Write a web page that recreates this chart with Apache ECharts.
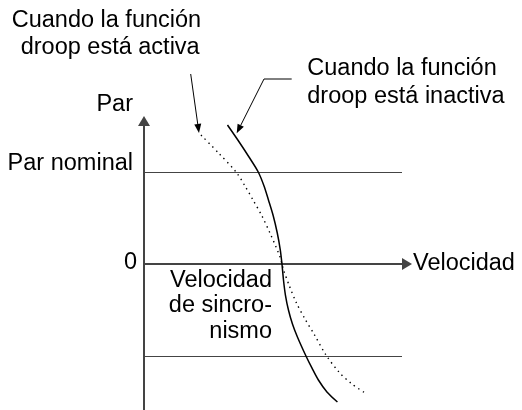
<!DOCTYPE html>
<html>
<head>
<meta charset="utf-8">
<script src="https://cdn.jsdelivr.net/npm/echarts@6/dist/echarts.min.js"></script>
<style>
html,body{margin:0;padding:0;background:#fff;}
#chart{width:522px;height:410px;}
</style>
</head>
<body>
<div id="chart"></div>
<script>
// Speed axis: 1 = synchronous speed. Torque axis: 1 = nominal torque.
const inactiveSpeed = [0.605, 0.685, 0.761, 0.828, 0.870, 0.902, 0.937, 0.966, 0.988, 1.0, 1.011, 1.025, 1.047, 1.076, 1.112, 1.174, 1.217, 1.264, 1.326, 1.402];
const inactiveTorque = [1.511, 1.337, 1.163, 1.0, 0.848, 0.696, 0.522, 0.337, 0.152, 0, -0.174, -0.337, -0.5, -0.652, -0.793, -1.0, -1.130, -1.261, -1.391, -1.5];
const activeSpeed = [0.413, 0.540, 0.667, 0.732, 0.790, 0.855, 0.913, 0.957, 0.986, 1.0, 1.014, 1.051, 1.105, 1.167, 1.232, 1.319, 1.413, 1.507, 1.609];
const activeTorque = [1.402, 1.207, 1.0, 0.848, 0.696, 0.522, 0.337, 0.185, 0.076, 0, -0.076, -0.228, -0.424, -0.598, -0.761, -0.989, -1.174, -1.304, -1.408];
const refTorqueLines = [1, -1];
const yLabelValues = [0, 1];
const yLabelTexts = {0: '0', 1: 'Par nominal'};
const xAxisName = 'Velocidad';
const yAxisName = 'Par';
const syncLabel = 'Velocidad\nde sincro-\nnismo';
const noteActive = ['Cuando la función', 'droop está activa'];
const noteInactive = ['Cuando la función', 'droop está inactiva'];

const FONT = '"Liberation Sans", Arial, sans-serif';
const FS = 23.5;
const AXIS_COLOR = '#444';

function pairs(xs, ys) { return xs.map((x, i) => [x, ys[i]]); }

function arrowHead(x0, y0, x1, y1, len, wid) {
  const dx = x1 - x0, dy = y1 - y0;
  const d = Math.sqrt(dx * dx + dy * dy);
  const ux = dx / d, uy = dy / d;
  const bx = x1 - ux * len, by = y1 - uy * len;
  const px = -uy * wid / 2, py = ux * wid / 2;
  return {
    base: [bx, by],
    pts: [[x1, y1], [bx + px, by + py], [bx - px, by - py]]
  };
}

const a1 = arrowHead(190.7, 74, 199, 133, 9, 7);
const a2 = arrowHead(264, 79, 236.7, 133.3, 9, 7);

function txt(text, x, y, align) {
  return {
    type: 'text', x: x, y: y, silent: true,
    style: { text: text, font: FS + 'px ' + FONT, fill: '#000', align: align, verticalAlign: 'middle' }
  };
}

const chart = echarts.init(document.getElementById('chart'), null, { renderer: 'canvas' });
chart.setOption({
  animation: false,
  backgroundColor: '#fff',
  grid: { left: 144, top: 126, width: 258, height: 285.2, containLabel: false, outerBoundsMode: 'none' },
  xAxis: {
    type: 'value', min: 0, max: 1.87,
    name: xAxisName, nameLocation: 'end', nameGap: 11,
    nameTextStyle: { fontSize: FS, fontFamily: FONT, color: '#000', padding: [0, 0, 18, 0] },
    axisLine: { show: true, onZero: true, symbol: ['none', 'triangle'], symbolSize: [12, 10], symbolOffset: [0, 5],
      lineStyle: { color: AXIS_COLOR, width: 2 } },
    axisTick: { show: false }, axisLabel: { show: false }, splitLine: { show: false }
  },
  yAxis: {
    type: 'value', min: -1.6, max: 1.5,
    name: yAxisName, nameLocation: 'end', nameGap: 21.4,
    nameTextStyle: { fontSize: FS, fontFamily: FONT, color: '#000', align: 'right', verticalAlign: 'middle', padding: [0, 11, 0, 0] },
    axisLine: { show: true, symbol: ['none', 'triangle'], symbolSize: [12, 10], symbolOffset: [0, 5],
      lineStyle: { color: AXIS_COLOR, width: 2 } },
    axisTick: { show: false },
    axisLabel: {
      show: true, customValues: yLabelValues, margin: 7,
      fontSize: FS, fontFamily: FONT, color: '#000',
      formatter: function (v) { return v === 1 ? '{n|' + yLabelTexts[1] + '}' : '{z|' + yLabelTexts[0] + '}'; },
      rich: {
        n: { fontSize: FS, fontFamily: FONT, color: '#000', padding: [0, 4, 16, 0] },
        z: { fontSize: FS, fontFamily: FONT, color: '#000', padding: [0, 0, 2, 0] }
      }
    },
    splitLine: { show: false }
  },
  series: [
    {
      type: 'line', name: 'inactiva', data: pairs(inactiveSpeed, inactiveTorque),
      smooth: 0.3, symbol: 'none', clip: false, z: 5,
      lineStyle: { color: '#000', width: 1.5 },
      markLine: {
        silent: true, symbol: 'none', label: { show: false },
        lineStyle: { color: '#444', width: 1, type: 'solid' },
        data: refTorqueLines.map(v => ({ yAxis: v }))
      }
    },
    {
      type: 'line', name: 'activa', data: pairs(activeSpeed, activeTorque),
      smooth: 0.3, symbol: 'none', clip: false, z: 4,
      lineStyle: { color: '#000', width: 1.4, type: [1.4, 4] }
    }
  ],
  graphic: [
    txt(noteActive[0], 11.7, 20.9, 'left'),
    txt(noteActive[1], 20.7, 47.9, 'left'),
    txt(noteInactive[0], 307.3, 68.6, 'left'),
    txt(noteInactive[1], 307.3, 96.2, 'left'),
    {
      type: 'text', x: 272, y: 267.5, silent: true,
      style: { text: syncLabel, font: FS + 'px ' + FONT, fill: '#000', align: 'right', verticalAlign: 'top', lineHeight: 25.5 }
    },
    { type: 'polyline', silent: true, shape: { points: [[190.7, 74], a1.base] }, style: { stroke: '#000', lineWidth: 1, fill: null } },
    { type: 'polygon', silent: true, shape: { points: a1.pts }, style: { fill: '#000' } },
    { type: 'polyline', silent: true, shape: { points: [[291.7, 79], [264, 79], a2.base] }, style: { stroke: '#000', lineWidth: 1, fill: null } },
    { type: 'polygon', silent: true, shape: { points: a2.pts }, style: { fill: '#000' } }
  ]
});
</script>
</body>
</html>
